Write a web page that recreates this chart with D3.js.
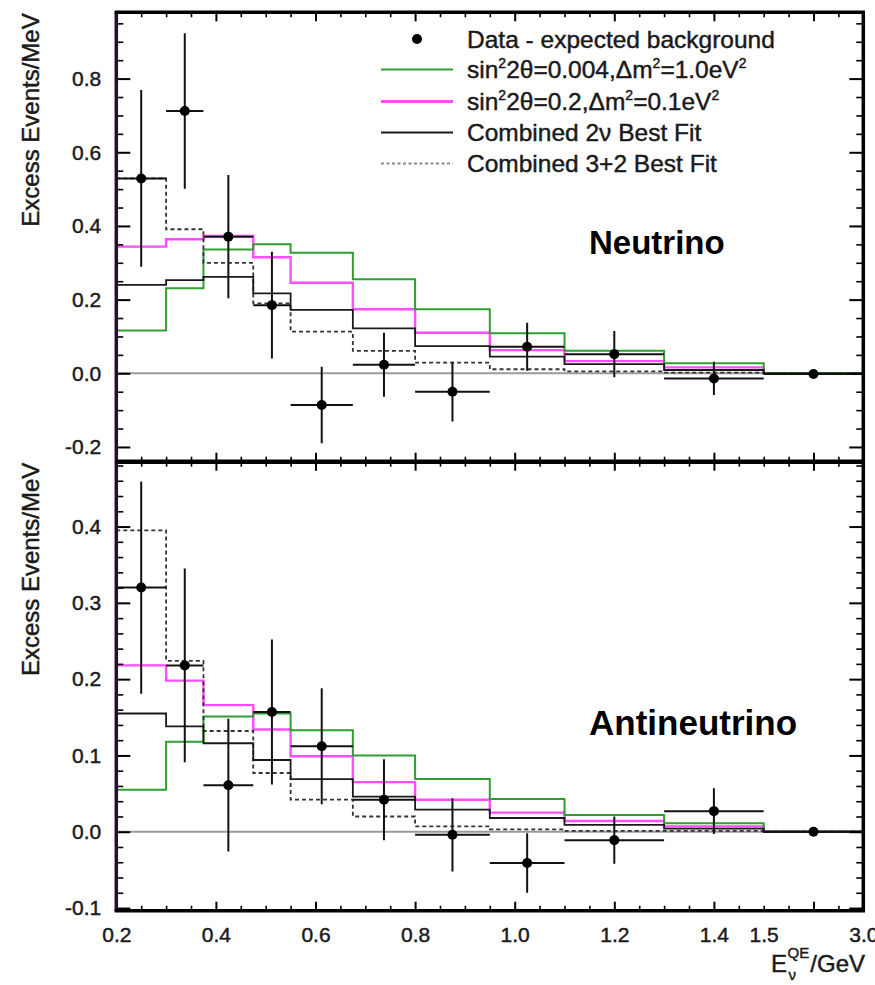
<!DOCTYPE html>
<html><head><meta charset="utf-8">
<script src="https://cdn.jsdelivr.net/npm/d3@7"></script>
<style>body{margin:0;background:#fff}svg{display:block}</style>
</head><body>
<script>
// ---------------- data ----------------
const binEdges = [0.2, 0.3, 0.375, 0.475, 0.55, 0.675, 0.8, 0.95, 1.1, 1.3, 1.5, 3.0];

// Neutrino panel
const nuData    = [0.529, 0.712, 0.371, 0.185, -0.086, 0.023, -0.050, 0.072, 0.052, -0.014, -0.002];
const nuErr     = [0.240, 0.211, 0.167, 0.145, 0.104, 0.087, 0.081, 0.065, 0.063, 0.045, 0.008];
const nuGreen   = [0.116, 0.231, 0.336, 0.350, 0.327, 0.255, 0.174, 0.109, 0.061, 0.027, 0.001];
const nuMagenta = [0.344, 0.364, 0.373, 0.315, 0.246, 0.174, 0.110, 0.063, 0.033, 0.016, 0.000];
const nuBest2   = [0.240, 0.253, 0.262, 0.217, 0.172, 0.122, 0.074, 0.045, 0.025, 0.009, 0.000];
const nuBest32  = [0.529, 0.391, 0.300, 0.190, 0.113, 0.061, 0.029, 0.011, 0.005, 0.002, 0.000];

// Antineutrino panel
const anuData    = [0.320, 0.218, 0.061, 0.157, 0.112, 0.042, -0.004, -0.041, -0.011, 0.027, 0.000];
const anuErr     = [0.139, 0.127, 0.087, 0.095, 0.076, 0.053, 0.048, 0.039, 0.031, 0.030, 0.005];
const anuGreen   = [0.055, 0.118, 0.151, 0.155, 0.133, 0.100, 0.069, 0.043, 0.022, 0.011, 0.000];
const anuMagenta = [0.218, 0.198, 0.166, 0.134, 0.099, 0.065, 0.042, 0.025, 0.014, 0.007, 0.000];
const anuBest2   = [0.155, 0.138, 0.116, 0.094, 0.069, 0.046, 0.029, 0.018, 0.009, 0.004, 0.000];
const anuBest32  = [0.395, 0.224, 0.132, 0.077, 0.042, 0.020, 0.007, 0.003, 0.001, 0.001, 0.000];

// tick labels
const xTickValues = [0.2, 0.4, 0.6, 0.8, 1.0, 1.2, 1.4, 1.5, 3.0];
const xTickLabels = ["0.2", "0.4", "0.6", "0.8", "1.0", "1.2", "1.4", "1.5", "3.0"];
const nuYTicks  = [-0.2, 0.0, 0.2, 0.4, 0.6, 0.8];
const nuYLabels = ["-0.2", "0.0", "0.2", "0.4", "0.6", "0.8"];
const anuYTicks  = [-0.1, 0.0, 0.1, 0.2, 0.3, 0.4];
const anuYLabels = ["-0.1", "0.0", "0.1", "0.2", "0.3", "0.4"];

const legendItems = [
  {type: "dot", label: "Data - expected background"},
  {type: "green", label: "sin22θ=0.004,Δm2=1.0eV2"},
  {type: "magenta", label: "sin22θ=0.2,Δm2=0.1eV2"},
  {type: "best2", label: "Combined 2ν Best Fit"},
  {type: "best32", label: "Combined 3+2 Best Fit"}
];

// ---------------- layout ----------------
const FONT = "'Liberation Sans', Arial, Helvetica, sans-serif";
const TXT = "#1a1a1a";
const L = 116.3, R = 863.3;
const TOP = 12.3, MID = 461.7, BOT = 910.7;
const styles = {
  green:   {stroke: "#2e9e2e", width: 2, dash: null},
  magenta: {stroke: "#ff4dff", width: 2.4, dash: null},
  best2:   {stroke: "#1a1a1a", width: 1.8, dash: null},
  best32:  {stroke: "#333333", width: 1.8, dash: "4,3"}
};

const svg = d3.select("body").append("svg").attr("width", 875).attr("height", 985);
const thick = sel => sel.attr("stroke", TXT).attr("stroke-width", 0.45);

const x = d3.scaleLinear().domain([0.2, 1.5, 3.0]).range([L, L + 1.3 * (R - L) / 1.5, R]);
// linear "display" axis (the last bin is drawn compressed)
const xLin = d3.scaleLinear().domain([0.2, 1.7]).range([L, R]);
const xMajor = d3.range(4, 33, 4).map(i => i * 0.05);
const xMinor = d3.range(5, 34).filter(i => i % 4 !== 0).map(i => i * 0.05);

const yTop = d3.scaleLinear().domain([-0.24, 0.98]).range([MID, TOP]);
const yBot = d3.scaleLinear().domain([-0.1035, 0.485]).range([BOT, MID]);

const panels = [
  {y: yTop, y0: TOP, y1: MID, data: nuData, err: nuErr,
   curves: {green: nuGreen, magenta: nuMagenta, best32: nuBest32, best2: nuBest2},
   yTicks: nuYTicks, yLabels: nuYLabels,
   yMinor: d3.range(-4, 20).filter(j => j % 4 !== 0).map(j => j * 0.05),
   title: "Neutrino", tx: 589, ty: 254, tsize: 33},
  {y: yBot, y0: MID, y1: BOT, data: anuData, err: anuErr,
   curves: {green: anuGreen, magenta: anuMagenta, best32: anuBest32, best2: anuBest2},
   yTicks: anuYTicks, yLabels: anuYLabels,
   yMinor: d3.range(-5, 25).filter(j => j % 5 !== 0).map(j => j * 0.02),
   title: "Antineutrino", tx: 589, ty: 735, tsize: 35}
];

panels.forEach((p, pi) => {
  const g = svg.append("g");
  const clipId = "clip" + pi;
  svg.append("clipPath").attr("id", clipId).append("rect")
    .attr("x", L).attr("y", p.y0).attr("width", R - L).attr("height", p.y1 - p.y0);
  const plot = g.append("g").attr("clip-path", `url(#${clipId})`);

  // zero line
  plot.append("line").attr("x1", L).attr("x2", R).attr("y1", p.y(0)).attr("y2", p.y(0))
    .attr("stroke", "#9a9a9a").attr("stroke-width", 2);

  // histograms
  const line = d3.line().x(d => x(d[0])).y(d => p.y(d[1])).curve(d3.curveStepAfter);
  ["magenta", "green", "best32", "best2"].forEach(k => {
    const vals = p.curves[k];
    const pts = vals.map((v, i) => [binEdges[i], v]);
    pts.push([binEdges[binEdges.length - 1], vals[vals.length - 1]]);
    const s = styles[k];
    plot.append("path").datum(pts).attr("d", line).attr("fill", "none")
      .attr("stroke", s.stroke).attr("stroke-width", s.width)
      .attr("stroke-dasharray", s.dash);
  });

  // data points with error bars
  const pts = p.data.map((v, i) => ({lo: binEdges[i], hi: binEdges[i + 1], v, e: p.err[i]}));
  const eg = plot.append("g").attr("stroke", "#111").attr("stroke-width", 2);
  eg.selectAll("line.h").data(pts).join("line").attr("class", "h")
    .attr("x1", d => x(d.lo)).attr("x2", d => x(d.hi))
    .attr("y1", d => p.y(d.v)).attr("y2", d => p.y(d.v));
  eg.selectAll("line.v").data(pts).join("line").attr("class", "v")
    .attr("x1", d => x((d.lo + d.hi) / 2)).attr("x2", d => x((d.lo + d.hi) / 2))
    .attr("y1", d => p.y(d.v - d.e)).attr("y2", d => p.y(d.v + d.e));
  plot.selectAll("circle").data(pts).join("circle")
    .attr("cx", d => x((d.lo + d.hi) / 2)).attr("cy", d => p.y(d.v)).attr("r", 5).attr("fill", "#000");

  // ---- axes (ticks inside on all sides) ----
  const tickStyle = (sel, w) => sel.call(a => a.select(".domain").remove())
    .selectAll("line").attr("stroke", "#000").attr("stroke-width", w);

  [[d3.axisBottom, p.y1], [d3.axisTop, p.y0]].forEach(([ax, yy]) => {
    svg.append("g").attr("transform", `translate(0,${yy})`)
      .call(ax(xLin).tickValues(xMajor).tickSize(-9).tickFormat(""))
      .call(s => tickStyle(s, 2));
    svg.append("g").attr("transform", `translate(0,${yy})`)
      .call(ax(xLin).tickValues(xMinor).tickSize(-5).tickFormat(""))
      .call(s => tickStyle(s, 1.6));
  });
  [[d3.axisLeft, L], [d3.axisRight, R]].forEach(([ax, xx]) => {
    svg.append("g").attr("transform", `translate(${xx},0)`)
      .call(ax(p.y).tickValues(p.yTicks).tickSize(-14).tickFormat(""))
      .call(s => tickStyle(s, 2));
    svg.append("g").attr("transform", `translate(${xx},0)`)
      .call(ax(p.y).tickValues(p.yMinor).tickSize(-7).tickFormat(""))
      .call(s => tickStyle(s, 1.6));
  });
  // y labels
  svg.append("g").attr("transform", `translate(${L},0)`)
    .call(d3.axisLeft(p.y).tickValues(p.yTicks).tickSize(0).tickPadding(15)
      .tickFormat((d, i) => p.yLabels[i]))
    .call(a => a.select(".domain").remove())
    .selectAll("text").attr("font-family", FONT).attr("font-size", 21).attr("fill", TXT)
    .call(thick);

  // y title
  svg.append("text").attr("transform", `translate(39,${p.y0 + 1}) rotate(-90)`)
    .attr("text-anchor", "end").attr("font-family", FONT).attr("font-size", 24)
    .attr("fill", TXT).call(thick).text("Excess Events/MeV");

  // panel title
  svg.append("text").attr("x", p.tx).attr("y", p.ty).attr("font-family", FONT)
    .attr("font-weight", "bold").attr("font-size", p.tsize).attr("fill", "#000").text(p.title);
});

// frame
svg.append("line").attr("x1", L).attr("x2", L).attr("y1", TOP).attr("y2", BOT)
  .attr("stroke", "#2a0c2c").attr("stroke-width", 3.5);
svg.append("line").attr("x1", R).attr("x2", R).attr("y1", TOP).attr("y2", BOT)
  .attr("stroke", "#000").attr("stroke-width", 3.5);
[TOP, BOT].forEach(yy => svg.append("line").attr("x1", L - 1.7).attr("x2", R + 1.7)
  .attr("y1", yy).attr("y2", yy).attr("stroke", "#000").attr("stroke-width", 3.5));
svg.append("line").attr("x1", L).attr("x2", R).attr("y1", MID).attr("y2", MID)
  .attr("stroke", "#000").attr("stroke-width", 4.5);

// x labels
svg.append("g").attr("transform", `translate(0,${BOT})`)
  .call(d3.axisBottom(x).tickValues(xTickValues).tickSize(0).tickPadding(16)
    .tickFormat((d, i) => xTickLabels[i]))
  .call(a => a.select(".domain").remove())
  .selectAll("text").attr("font-family", FONT).attr("font-size", 21).attr("fill", TXT)
  .call(thick);

// x title  E_nu^QE / GeV (contiguous, right-aligned at the frame edge)
const xt = svg.append("g").attr("font-family", FONT).attr("fill", TXT);
const gevT = xt.append("text").attr("x", 865).attr("y", 972).attr("font-size", 24)
  .attr("text-anchor", "end").call(thick).text("/GeV");
const gevW = gevT.node().getComputedTextLength();
const supT = xt.append("text").attr("y", 958).attr("font-size", 15).call(thick).text("QE");
const supW = supT.node().getComputedTextLength();
const supX = 865 - gevW - supW - 1;
supT.attr("x", supX);
xt.append("text").attr("x", supX + 1).attr("y", 980).attr("font-size", 15).call(thick).text("ν");
xt.append("text").attr("x", supX - 0.5).attr("y", 972).attr("font-size", 24)
  .attr("text-anchor", "end").call(thick).text("E");

// legend
const lg = svg.append("g").attr("font-family", FONT).attr("fill", TXT);
const rowY = [39, 69.5, 101.5, 132.5, 163.5];
legendItems.forEach((it, i) => {
  const cy = rowY[i];
  if (it.type === "dot") {
    lg.append("circle").attr("cx", 417).attr("cy", cy).attr("r", 5).attr("fill", "#000");
  } else {
    const s = styles[it.type];
    lg.append("line").attr("x1", 381).attr("x2", 453).attr("y1", cy).attr("y2", cy)
      .attr("stroke", it.type === "best32" ? "#8a8a8a" : s.stroke)
      .attr("stroke-width", it.type === "magenta" ? 3 : 2.2)
      .attr("stroke-dasharray", it.type === "best32" ? "3,2.5" : null);
  }
  const t = lg.append("text").attr("x", 467).attr("y", cy + 8.5).attr("font-size", 24.5).call(thick);
  if (it.type === "green" || it.type === "magenta") {
    const parts = it.label.match(/^sin2(2θ=[^,]+,Δm)2(=[^e]+eV)2$/);
    t.append("tspan").text("sin");
    t.append("tspan").attr("dy", -10).attr("font-size", 14).text("2");
    t.append("tspan").attr("dy", 10).text(parts[1]);
    t.append("tspan").attr("dy", -10).attr("font-size", 14).text("2");
    t.append("tspan").attr("dy", 10).text(parts[2]);
    t.append("tspan").attr("dy", -10).attr("font-size", 14).text("2");
  } else {
    t.text(it.label);
  }
});
</script>
</body></html>
